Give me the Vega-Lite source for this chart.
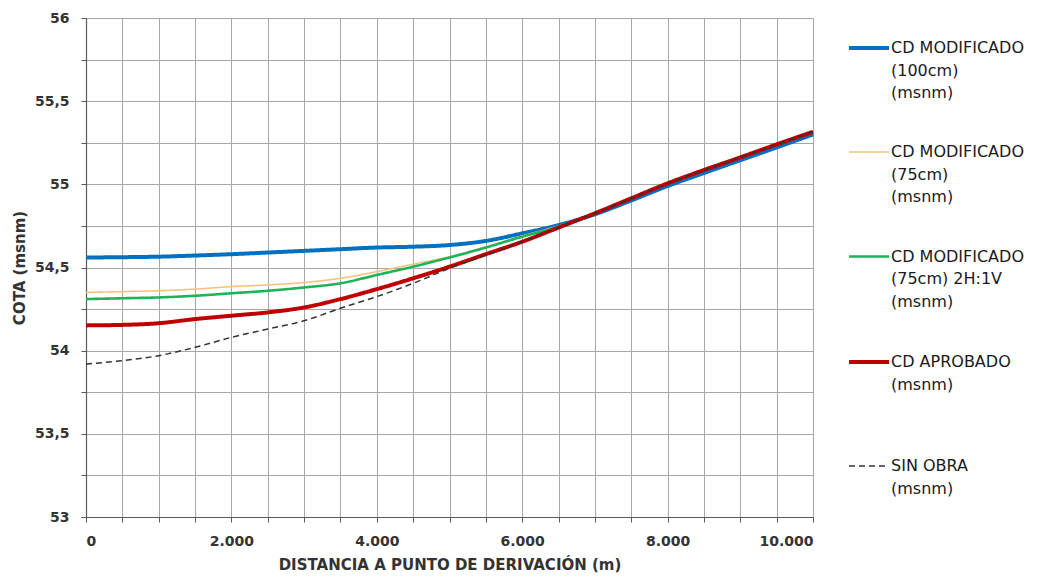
{
  "$schema": "https://vega.github.io/schema/vega-lite/v6.json",
  "width": 727,
  "height": 499,
  "autosize": {"type": "none"},
  "padding": {"left": 86, "top": 18, "right": 232, "bottom": 61},
  "background": "white",
  "config": {
    "locale": {"number": {"decimal": ",", "thousands": ".", "grouping": [3], "currency": ["", " €"]}},
    "view": {"stroke": null},
    "font": "DejaVu Sans",
    "axis": {
      "gridColor": "#a6a6a6",
      "gridWidth": 1,
      "domainColor": "#595959",
      "domainWidth": 1.2,
      "tickColor": "#595959",
      "tickSize": 5,
      "labelFont": "DejaVu Sans",
      "labelFontWeight": "bold",
      "labelFontSize": 14,
      "labelColor": "#333333",
      "labelPadding": 12,
      "labelOverlap": false,
      "labelBound": false,
      "titleFont": "DejaVu Sans",
      "titleFontSize": 15,
      "titleFontWeight": "bold",
      "titleColor": "#333333"
    },
    "legend": {
      "labelFont": "DejaVu Sans",
      "labelFontSize": 16,
      "labelColor": "#1a1a1a",
      "labelLimit": 400
    }
  },
  "data": {
    "values": [
      {"serie": "CD MODIFICADO (100cm) (msnm)", "distancia": 0, "cota": 54.56},
      {"serie": "CD MODIFICADO (100cm) (msnm)", "distancia": 500, "cota": 54.562},
      {"serie": "CD MODIFICADO (100cm) (msnm)", "distancia": 1000, "cota": 54.565},
      {"serie": "CD MODIFICADO (100cm) (msnm)", "distancia": 1500, "cota": 54.572},
      {"serie": "CD MODIFICADO (100cm) (msnm)", "distancia": 2000, "cota": 54.58},
      {"serie": "CD MODIFICADO (100cm) (msnm)", "distancia": 2500, "cota": 54.59},
      {"serie": "CD MODIFICADO (100cm) (msnm)", "distancia": 3000, "cota": 54.6},
      {"serie": "CD MODIFICADO (100cm) (msnm)", "distancia": 3500, "cota": 54.61},
      {"serie": "CD MODIFICADO (100cm) (msnm)", "distancia": 4000, "cota": 54.62},
      {"serie": "CD MODIFICADO (100cm) (msnm)", "distancia": 4500, "cota": 54.625},
      {"serie": "CD MODIFICADO (100cm) (msnm)", "distancia": 5000, "cota": 54.635},
      {"serie": "CD MODIFICADO (100cm) (msnm)", "distancia": 5500, "cota": 54.66},
      {"serie": "CD MODIFICADO (100cm) (msnm)", "distancia": 6000, "cota": 54.705},
      {"serie": "CD MODIFICADO (100cm) (msnm)", "distancia": 6500, "cota": 54.755},
      {"serie": "CD MODIFICADO (100cm) (msnm)", "distancia": 7000, "cota": 54.82},
      {"serie": "CD MODIFICADO (100cm) (msnm)", "distancia": 7500, "cota": 54.903},
      {"serie": "CD MODIFICADO (100cm) (msnm)", "distancia": 8000, "cota": 54.99},
      {"serie": "CD MODIFICADO (100cm) (msnm)", "distancia": 8500, "cota": 55.068},
      {"serie": "CD MODIFICADO (100cm) (msnm)", "distancia": 9000, "cota": 55.145},
      {"serie": "CD MODIFICADO (100cm) (msnm)", "distancia": 9500, "cota": 55.222},
      {"serie": "CD MODIFICADO (100cm) (msnm)", "distancia": 10000, "cota": 55.3},

      {"serie": "CD MODIFICADO (75cm) (msnm)", "distancia": 0, "cota": 54.35},
      {"serie": "CD MODIFICADO (75cm) (msnm)", "distancia": 500, "cota": 54.355},
      {"serie": "CD MODIFICADO (75cm) (msnm)", "distancia": 1000, "cota": 54.36},
      {"serie": "CD MODIFICADO (75cm) (msnm)", "distancia": 1500, "cota": 54.37},
      {"serie": "CD MODIFICADO (75cm) (msnm)", "distancia": 2000, "cota": 54.385},
      {"serie": "CD MODIFICADO (75cm) (msnm)", "distancia": 2500, "cota": 54.395},
      {"serie": "CD MODIFICADO (75cm) (msnm)", "distancia": 3000, "cota": 54.41},
      {"serie": "CD MODIFICADO (75cm) (msnm)", "distancia": 3500, "cota": 54.435},
      {"serie": "CD MODIFICADO (75cm) (msnm)", "distancia": 4000, "cota": 54.475},
      {"serie": "CD MODIFICADO (75cm) (msnm)", "distancia": 4500, "cota": 54.52},
      {"serie": "CD MODIFICADO (75cm) (msnm)", "distancia": 5000, "cota": 54.565},
      {"serie": "CD MODIFICADO (75cm) (msnm)", "distancia": 5500, "cota": 54.625},
      {"serie": "CD MODIFICADO (75cm) (msnm)", "distancia": 6000, "cota": 54.69},
      {"serie": "CD MODIFICADO (75cm) (msnm)", "distancia": 6500, "cota": 54.75},
      {"serie": "CD MODIFICADO (75cm) (msnm)", "distancia": 7000, "cota": 54.826},
      {"serie": "CD MODIFICADO (75cm) (msnm)", "distancia": 7500, "cota": 54.916},
      {"serie": "CD MODIFICADO (75cm) (msnm)", "distancia": 8000, "cota": 55.006},
      {"serie": "CD MODIFICADO (75cm) (msnm)", "distancia": 8500, "cota": 55.086},
      {"serie": "CD MODIFICADO (75cm) (msnm)", "distancia": 9000, "cota": 55.162},
      {"serie": "CD MODIFICADO (75cm) (msnm)", "distancia": 9500, "cota": 55.24},
      {"serie": "CD MODIFICADO (75cm) (msnm)", "distancia": 10000, "cota": 55.316},

      {"serie": "CD MODIFICADO (75cm) 2H:1V (msnm)", "distancia": 0, "cota": 54.31},
      {"serie": "CD MODIFICADO (75cm) 2H:1V (msnm)", "distancia": 500, "cota": 54.315},
      {"serie": "CD MODIFICADO (75cm) 2H:1V (msnm)", "distancia": 1000, "cota": 54.32},
      {"serie": "CD MODIFICADO (75cm) 2H:1V (msnm)", "distancia": 1500, "cota": 54.33},
      {"serie": "CD MODIFICADO (75cm) 2H:1V (msnm)", "distancia": 2000, "cota": 54.345},
      {"serie": "CD MODIFICADO (75cm) 2H:1V (msnm)", "distancia": 2500, "cota": 54.36},
      {"serie": "CD MODIFICADO (75cm) 2H:1V (msnm)", "distancia": 3000, "cota": 54.38},
      {"serie": "CD MODIFICADO (75cm) 2H:1V (msnm)", "distancia": 3500, "cota": 54.405},
      {"serie": "CD MODIFICADO (75cm) 2H:1V (msnm)", "distancia": 4000, "cota": 54.455},
      {"serie": "CD MODIFICADO (75cm) 2H:1V (msnm)", "distancia": 4500, "cota": 54.505},
      {"serie": "CD MODIFICADO (75cm) 2H:1V (msnm)", "distancia": 5000, "cota": 54.56},
      {"serie": "CD MODIFICADO (75cm) 2H:1V (msnm)", "distancia": 5500, "cota": 54.62},
      {"serie": "CD MODIFICADO (75cm) 2H:1V (msnm)", "distancia": 6000, "cota": 54.685},
      {"serie": "CD MODIFICADO (75cm) 2H:1V (msnm)", "distancia": 6500, "cota": 54.745},
      {"serie": "CD MODIFICADO (75cm) 2H:1V (msnm)", "distancia": 7000, "cota": 54.826},
      {"serie": "CD MODIFICADO (75cm) 2H:1V (msnm)", "distancia": 7500, "cota": 54.916},
      {"serie": "CD MODIFICADO (75cm) 2H:1V (msnm)", "distancia": 8000, "cota": 55.006},
      {"serie": "CD MODIFICADO (75cm) 2H:1V (msnm)", "distancia": 8500, "cota": 55.086},
      {"serie": "CD MODIFICADO (75cm) 2H:1V (msnm)", "distancia": 9000, "cota": 55.162},
      {"serie": "CD MODIFICADO (75cm) 2H:1V (msnm)", "distancia": 9500, "cota": 55.24},
      {"serie": "CD MODIFICADO (75cm) 2H:1V (msnm)", "distancia": 10000, "cota": 55.316},

      {"serie": "CD APROBADO (msnm)", "distancia": 0, "cota": 54.152},
      {"serie": "CD APROBADO (msnm)", "distancia": 500, "cota": 54.155},
      {"serie": "CD APROBADO (msnm)", "distancia": 1000, "cota": 54.165},
      {"serie": "CD APROBADO (msnm)", "distancia": 1500, "cota": 54.19},
      {"serie": "CD APROBADO (msnm)", "distancia": 2000, "cota": 54.21},
      {"serie": "CD APROBADO (msnm)", "distancia": 2500, "cota": 54.23},
      {"serie": "CD APROBADO (msnm)", "distancia": 3000, "cota": 54.26},
      {"serie": "CD APROBADO (msnm)", "distancia": 3500, "cota": 54.31},
      {"serie": "CD APROBADO (msnm)", "distancia": 4000, "cota": 54.37},
      {"serie": "CD APROBADO (msnm)", "distancia": 4500, "cota": 54.435},
      {"serie": "CD APROBADO (msnm)", "distancia": 5000, "cota": 54.505},
      {"serie": "CD APROBADO (msnm)", "distancia": 5500, "cota": 54.58},
      {"serie": "CD APROBADO (msnm)", "distancia": 6000, "cota": 54.655},
      {"serie": "CD APROBADO (msnm)", "distancia": 6500, "cota": 54.74},
      {"serie": "CD APROBADO (msnm)", "distancia": 7000, "cota": 54.826},
      {"serie": "CD APROBADO (msnm)", "distancia": 7500, "cota": 54.916},
      {"serie": "CD APROBADO (msnm)", "distancia": 8000, "cota": 55.006},
      {"serie": "CD APROBADO (msnm)", "distancia": 8500, "cota": 55.086},
      {"serie": "CD APROBADO (msnm)", "distancia": 9000, "cota": 55.162},
      {"serie": "CD APROBADO (msnm)", "distancia": 9500, "cota": 55.24},
      {"serie": "CD APROBADO (msnm)", "distancia": 10000, "cota": 55.316},

      {"serie": "SIN OBRA (msnm)", "distancia": 0, "cota": 53.92},
      {"serie": "SIN OBRA (msnm)", "distancia": 500, "cota": 53.94},
      {"serie": "SIN OBRA (msnm)", "distancia": 1000, "cota": 53.97},
      {"serie": "SIN OBRA (msnm)", "distancia": 1500, "cota": 54.02},
      {"serie": "SIN OBRA (msnm)", "distancia": 2000, "cota": 54.08},
      {"serie": "SIN OBRA (msnm)", "distancia": 2500, "cota": 54.13},
      {"serie": "SIN OBRA (msnm)", "distancia": 3000, "cota": 54.18},
      {"serie": "SIN OBRA (msnm)", "distancia": 3500, "cota": 54.255},
      {"serie": "SIN OBRA (msnm)", "distancia": 4000, "cota": 54.325},
      {"serie": "SIN OBRA (msnm)", "distancia": 4500, "cota": 54.405},
      {"serie": "SIN OBRA (msnm)", "distancia": 5000, "cota": 54.495},
      {"serie": "SIN OBRA (msnm)", "distancia": 5500, "cota": 54.575},
      {"serie": "SIN OBRA (msnm)", "distancia": 6000, "cota": 54.655},
      {"serie": "SIN OBRA (msnm)", "distancia": 6500, "cota": 54.74},
      {"serie": "SIN OBRA (msnm)", "distancia": 7000, "cota": 54.826},
      {"serie": "SIN OBRA (msnm)", "distancia": 7500, "cota": 54.916},
      {"serie": "SIN OBRA (msnm)", "distancia": 8000, "cota": 55.006},
      {"serie": "SIN OBRA (msnm)", "distancia": 8500, "cota": 55.086},
      {"serie": "SIN OBRA (msnm)", "distancia": 9000, "cota": 55.162},
      {"serie": "SIN OBRA (msnm)", "distancia": 9500, "cota": 55.24},
      {"serie": "SIN OBRA (msnm)", "distancia": 10000, "cota": 55.316}
    ]
  },
  "mark": {"type": "line", "interpolate": "monotone"},
  "encoding": {
    "x": {
      "field": "distancia",
      "type": "quantitative",
      "scale": {"domain": [0, 10000], "nice": false},
      "axis": {
        "title": "DISTANCIA A PUNTO DE DERIVACIÓN (m)",
        "titlePadding": 9,
        "values": [0, 500, 1000, 1500, 2000, 2500, 3000, 3500, 4000, 4500, 5000, 5500, 6000, 6500, 7000, 7500, 8000, 8500, 9000, 9500, 10000],
        "labelExpr": "datum.value % 2000 === 0 ? format(datum.value, ',') : ''"
      }
    },
    "y": {
      "field": "cota",
      "type": "quantitative",
      "scale": {"domain": [53, 56], "nice": false, "zero": false},
      "axis": {
        "title": "COTA (msnm)",
        "titlePadding": 7,
        "values": [53, 53.25, 53.5, 53.75, 54, 54.25, 54.5, 54.75, 55, 55.25, 55.5, 55.75, 56],
        "labelExpr": "datum.value % 0.5 === 0 ? format(datum.value, '~g') : ''"
      }
    },
    "color": {
      "field": "serie",
      "type": "nominal",
      "scale": {
        "domain": ["CD MODIFICADO (100cm) (msnm)", "CD MODIFICADO (75cm) (msnm)", "CD MODIFICADO (75cm) 2H:1V (msnm)", "CD APROBADO (msnm)", "SIN OBRA (msnm)"],
        "range": ["#0070C0", "#F7C27F", "#1DB35A", "#C00000", "#333333"]
      },
      "legend": {
        "title": null,
        "orient": "none",
        "legendX": 761,
        "legendY": 8,
        "symbolType": "stroke",
        "symbolSize": 1600,
        "labelOffset": 0,
        "labelBaseline": "middle",
        "rowPadding": 30,
        "labelExpr": "datum.label === 'CD MODIFICADO (100cm) (msnm)' ? ['CD MODIFICADO', '(100cm)', '(msnm)'] : datum.label === 'CD MODIFICADO (75cm) (msnm)' ? ['CD MODIFICADO', '(75cm)', '(msnm)'] : datum.label === 'CD MODIFICADO (75cm) 2H:1V (msnm)' ? ['CD MODIFICADO', '(75cm) 2H:1V', '(msnm)'] : datum.label === 'CD APROBADO (msnm)' ? ['CD APROBADO', '(msnm)', ''] : ['SIN OBRA', '\u00a0(msnm)', '']",
        "encode": {"labels": {"update": {"lineHeight": {"value": 22.5}}}}
      }
    },
    "strokeWidth": {
      "field": "serie",
      "type": "nominal",
      "scale": {
        "type": "ordinal",
        "domain": ["CD MODIFICADO (100cm) (msnm)", "CD MODIFICADO (75cm) (msnm)", "CD MODIFICADO (75cm) 2H:1V (msnm)", "CD APROBADO (msnm)", "SIN OBRA (msnm)"],
        "range": [4, 1.6, 2.6, 4, 1.5]
      }
    },
    "strokeDash": {
      "field": "serie",
      "type": "nominal",
      "scale": {
        "domain": ["CD MODIFICADO (100cm) (msnm)", "CD MODIFICADO (75cm) (msnm)", "CD MODIFICADO (75cm) 2H:1V (msnm)", "CD APROBADO (msnm)", "SIN OBRA (msnm)"],
        "range": [[1, 0], [1, 0], [1, 0], [1, 0], [6, 4]]
      }
    }
  }
}
